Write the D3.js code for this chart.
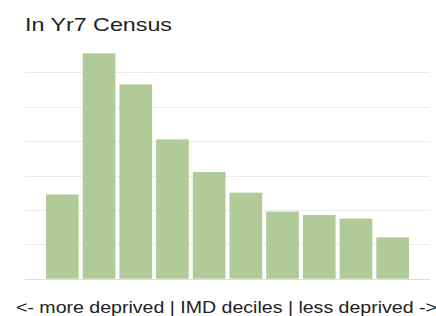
<!DOCTYPE html>
<html>
<head>
<meta charset="utf-8">
<script src="https://cdn.jsdelivr.net/npm/d3@7"></script>
<style>
  body { margin: 0; background: #fff; }
  svg { display: block; font-family: "Liberation Sans", Arial, sans-serif; }
</style>
</head>
<body>
<div id="chart"></div>
<script>
// IMD deciles, 1 = most deprived
var deciles = ["1", "2", "3", "4", "5", "6", "7", "8", "9", "10"];
var pupils = [4.9, 13.1, 11.3, 8.1, 6.2, 5.0, 3.9, 3.7, 3.5, 2.4];
var gridTicks = [0, 2, 4, 6, 8, 10, 12];
var title = "In Yr7 Census";
var axisTitle = "<- more deprived | IMD deciles | less deprived ->";

var svg = d3.select("#chart")
    .append("svg")
    .attr("width", 436)
    .attr("height", 316);

var x = d3.scaleBand()
    .domain(deciles)
    .range([46, 409])
    .paddingInner(0.11)
    .paddingOuter(0);

var y = d3.scaleLinear()
    .domain([0, 12])
    .range([278.7, 72.3]);

// gridlines
svg.append("g")
    .selectAll("line")
    .data(gridTicks)
    .enter()
  .append("line")
    .attr("x1", 25)
    .attr("x2", 430)
    .attr("y1", function(d){ return Math.round(y(d)) + 0.5; })
    .attr("y2", function(d){ return Math.round(y(d)) + 0.5; })
    .style("stroke", function(d){ return d == 0 ? "#dcdcdc" : "#ebebeb"; })
    .style("stroke-width", 1);

svg.append("g")
    .selectAll("rect")
    .data(pupils)
    .enter()
  .append("rect")
    .attr("x", function(d, i){ return x(deciles[i]); })
    .attr("width", x.bandwidth())
    .attr("y", function(d){ return y(d); })
    .attr("height", function(d){ return y(0) - y(d); })
    .style("fill", "#b1cb98");

svg.append("text")
    .attr("x", 25)
    .attr("y", 30.7)
    .attr("textLength", 147)
    .attr("lengthAdjust", "spacingAndGlyphs")
    .style("font-size", "18.6px")
    .style("fill", "#222")
    .text(title);

svg.append("text")
    .attr("x", 16)
    .attr("y", 312.5)
    .attr("textLength", 421)
    .attr("lengthAdjust", "spacingAndGlyphs")
    .style("font-size", "16.7px")
    .style("fill", "#222")
    .text(axisTitle);
</script>
</body>
</html>
